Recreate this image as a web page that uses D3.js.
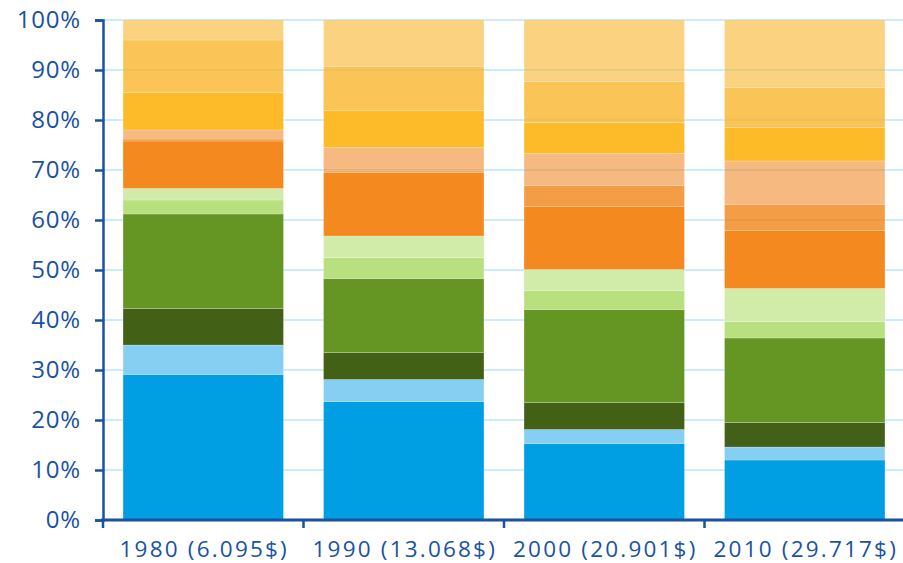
<!DOCTYPE html>
<html>
<head>
<meta charset="utf-8">
<script src="https://cdn.jsdelivr.net/npm/d3@7"></script>
<style>
  body { margin: 0; background: #fff; }
  svg { display: block; }
</style>
</head>
<body>
<svg id="chart" width="903" height="563"></svg>
<script>
// categories along the x axis
const years = ["1980 (6.095$)", "1990 (13.068$)", "2000 (20.901$)", "2010 (29.717$)"];

// stacked shares (percent), bottom segment first
const s1 = [29.1, 23.7, 15.3, 12.0];
const s2 = [5.9, 4.4, 2.8, 2.6];
const s3 = [7.3, 5.4, 5.4, 4.9];
const s4 = [18.9, 14.8, 18.6, 16.9];
const s5 = [2.8, 4.2, 3.8, 3.3];
const s6 = [2.3, 4.3, 4.2, 6.6];
const s7 = [9.5, 12.7, 12.6, 11.6];
const s8 = [0.4, 0.3, 4.2, 5.2];
const s9 = [1.8, 4.7, 6.4, 8.7];
const s10 = [7.5, 7.4, 6.2, 6.7];
const s11 = [10.5, 8.8, 8.2, 8.0];
const s12 = [4.0, 9.3, 12.3, 13.5];
const series = [s1, s2, s3, s4, s5, s6, s7, s8, s9, s10, s11, s12];

const yTicks = [0, 10, 20, 30, 40, 50, 60, 70, 80, 90, 100];

// segment colours and opacity (upper ones are translucent)
const colors = ["#009fe3", "#87cff2", "#436017", "#659623", "#b9e07e", "#d1eba8",
                "#f48a1f", "#f08418", "#f08a2a", "#fdb71f", "#f9b52c", "#f8b62b"];
const opac   = [1, 1, 1, 1, 1, 1, 1, 0.8, 0.6, 0.95, 0.8, 0.6];

const svg = d3.select("#chart");
const axisColor = "#1a52a2";
const font = "'Open Sans', 'Noto Sans', sans-serif";

const x = d3.scaleBand().domain(years).range([103, 905]).paddingInner(0.2).paddingOuter(0.1);
const y = d3.scaleLinear().domain([0, 100]).range([520, 20]);

// gridlines
svg.append("g")
  .selectAll("line")
  .data(yTicks.slice(1))
  .join("line")
  .attr("x1", 103).attr("x2", 903)
  .attr("y1", d => y(d)).attr("y2", d => y(d))
  .attr("stroke", "#b9e6fa")
  .attr("stroke-width", 1.5);

// stacked bars
const table = years.map((yr, i) => {
  const row = { year: yr };
  series.forEach((s, k) => row["k" + k] = s[i]);
  return row;
});
const stack = d3.stack().keys(series.map((s, k) => "k" + k))(table);

svg.append("g")
  .selectAll("g")
  .data(stack)
  .join("g")
  .attr("fill", (d, k) => colors[k])
  .attr("fill-opacity", (d, k) => opac[k])
  .selectAll("rect")
  .data(d => d)
  .join("rect")
  .attr("x", d => x(d.data.year))
  .attr("width", x.bandwidth())
  .attr("y", d => y(d[1]))
  .attr("height", d => y(d[0]) - y(d[1]))
  .attr("stroke", "rgba(255,255,255,0.25)")
  .attr("stroke-width", 0.8);

// y axis
const yAxis = svg.append("g")
  .attr("transform", "translate(103,0)")
  .call(d3.axisLeft(y).tickValues(yTicks).tickFormat(d => d + "%").tickSize(8).tickPadding(14));
yAxis.select(".domain").attr("stroke", axisColor).attr("stroke-width", 2.5);
yAxis.selectAll(".tick line").attr("stroke", axisColor).attr("stroke-width", 2.5);
yAxis.selectAll("text")
  .attr("fill", axisColor)
  .style("font-family", font)
  .style("font-size", "24px")
  .style("letter-spacing", "0.8px");

// x axis line with ticks at band boundaries
const xBounds = years.map(d => x(d) - x.step() * x.paddingInner() / 2).concat([905]);
svg.append("line")
  .attr("x1", 101).attr("x2", 903)
  .attr("y1", 520).attr("y2", 520)
  .attr("stroke", axisColor).attr("stroke-width", 2.8);
svg.append("g")
  .selectAll("line")
  .data(xBounds)
  .join("line")
  .attr("x1", d => d).attr("x2", d => d)
  .attr("y1", 520).attr("y2", 528)
  .attr("stroke", axisColor).attr("stroke-width", 2.5);

svg.append("g")
  .selectAll("text")
  .data(years)
  .join("text")
  .attr("x", d => x(d) + x.bandwidth() / 2 + 1)
  .attr("y", 557)
  .attr("text-anchor", "middle")
  .attr("fill", axisColor)
  .style("font-family", font)
  .style("font-size", "22.5px")
  .style("letter-spacing", "2.2px")
  .text(d => d);
</script>
</body>
</html>
